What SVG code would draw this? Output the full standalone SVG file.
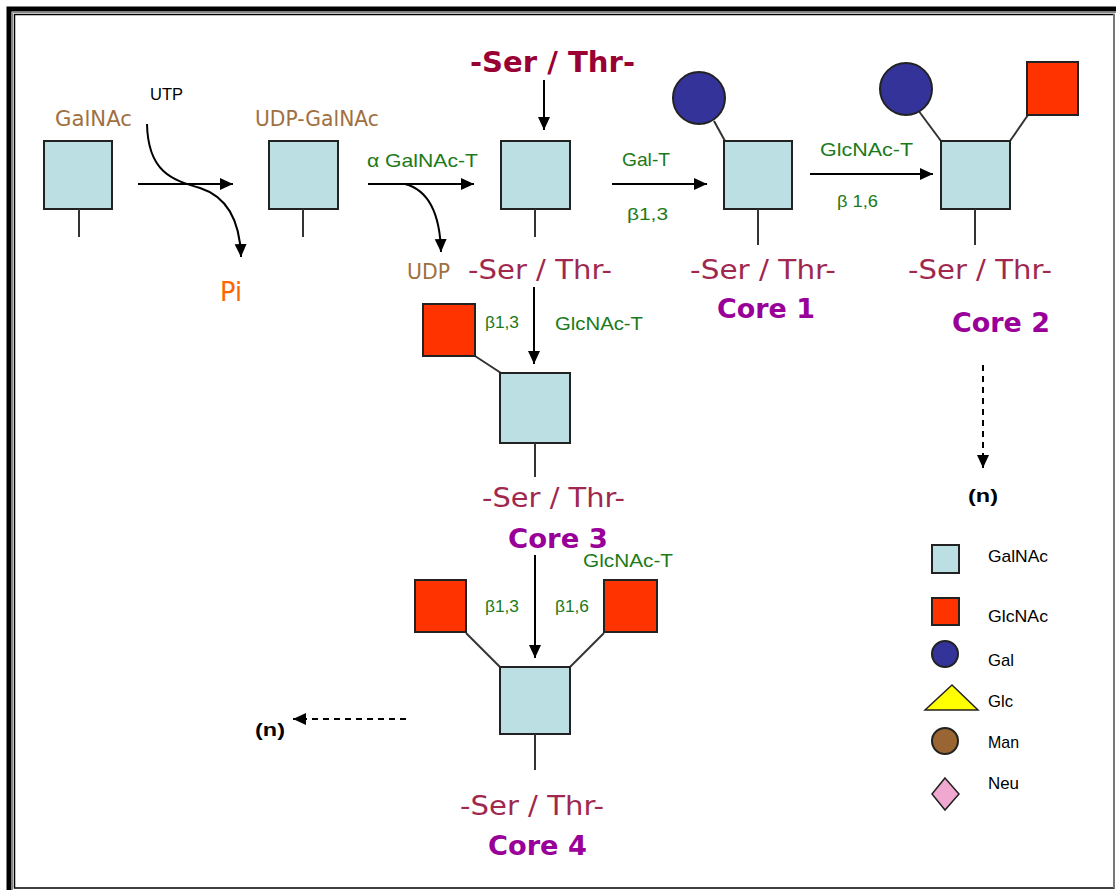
<svg xmlns="http://www.w3.org/2000/svg" width="1116" height="890" viewBox="0 0 1116 890">
<defs>
<marker id="ah" markerWidth="14" markerHeight="14" refX="13" refY="7" orient="auto" markerUnits="userSpaceOnUse">
<path d="M0,1 L13,7 L0,13 Z" fill="#000"/>
</marker>
<style>
.gn{fill:#BBDFE2;stroke:#222;stroke-width:2}
.gc{fill:#FF3300;stroke:#222;stroke-width:2}
.gal{fill:#333399;stroke:#222;stroke-width:2}
.bond{stroke:#333;stroke-width:2;fill:none}
.arr{stroke:#000;stroke-width:2;fill:none;marker-end:url(#ah)}
.dash{stroke:#000;stroke-width:2;fill:none;stroke-dasharray:6,5;marker-end:url(#ah)}
.st{font-family:"DejaVu Sans",sans-serif;font-size:26px;fill:#A0284F}
.core{font-family:"DejaVu Sans",sans-serif;font-size:26px;font-weight:bold;fill:#990099}
.en{font-family:"Liberation Sans",Arial,sans-serif;font-size:19px;fill:#1A7A1A}
.lk{font-family:"Liberation Sans",Arial,sans-serif;font-size:16px;fill:#1A7A1A}
.br{font-family:"DejaVu Sans",sans-serif;font-size:21px;fill:#A07040}
.lg{font-family:"Liberation Sans",Arial,sans-serif;font-size:17px;fill:#000}
.n{font-family:"Liberation Sans",Arial,sans-serif;font-size:19px;font-weight:bold;fill:#000}
</style>
</defs>
<rect width="1116" height="890" fill="#fff"/>
<!-- frame -->
<g id="frame" fill="none">
<path d="M9,892 L9,9 L1120,9" stroke="#000" stroke-width="5"/>
<path d="M12.5,892 L12.5,12.5 L1120,12.5" stroke="#888" stroke-width="1"/>
<rect x="14.5" y="14.5" width="1099.5" height="873.5" stroke="#000" stroke-width="1.5"/>
<line x1="1114" y1="14" x2="1114" y2="888" stroke="#777" stroke-width="2"/>
</g>
<!-- connectors -->
<g id="connectors">
<line class="arr" x1="138" y1="184" x2="233" y2="184"/>
<path class="arr" d="M147,124 C148,172 172,180 200,188 C228,197 240,222 241,257"/>
<line class="arr" x1="368" y1="184" x2="474" y2="184"/>
<path class="arr" d="M405,184 C428,190 440,212 441,252"/>
<line class="arr" x1="544" y1="80" x2="544" y2="130"/>
<line class="arr" x1="612" y1="184" x2="707" y2="184"/>
<line class="arr" x1="810" y1="174" x2="933" y2="174"/>
<line class="arr" x1="534" y1="287" x2="534" y2="364"/>
<line class="arr" x1="535" y1="555" x2="535" y2="658"/>
<line class="dash" x1="983" y1="365" x2="983" y2="468"/>
<line class="dash" x1="406" y1="719" x2="293" y2="719"/>
</g>
<!-- GalNAc -->
<g id="galnac">
<text class="br" x="55" y="126" textLength="77" lengthAdjust="spacingAndGlyphs">GalNAc</text>
<rect class="gn" x="44" y="141" width="68" height="68"/>
<line class="bond" x1="79" y1="209" x2="79" y2="237"/>
</g>
<g id="utp">
<text x="150" y="100" font-family="Liberation Sans, Arial, sans-serif" font-size="17" fill="#000" textLength="33" lengthAdjust="spacingAndGlyphs">UTP</text>
</g>
<g id="pi">
<text x="220" y="301" font-family="DejaVu Sans, sans-serif" font-size="26" fill="#FF6600" textLength="22" lengthAdjust="spacingAndGlyphs">Pi</text>
</g>
<!-- UDP-GalNAc -->
<g id="udp-galnac">
<text class="br" x="255" y="126" textLength="124" lengthAdjust="spacingAndGlyphs">UDP-GalNAc</text>
<rect class="gn" x="269" y="141" width="69" height="68"/>
<line class="bond" x1="303" y1="209" x2="303" y2="237"/>
</g>
<g id="galnac-t">
<text class="en" x="367" y="167" textLength="111" lengthAdjust="spacingAndGlyphs">α GalNAc-T</text>
</g>
<g id="udp">
<text class="br" x="407" y="279" textLength="43" lengthAdjust="spacingAndGlyphs">UDP</text>
</g>
<!-- Tn antigen -->
<g id="ser-thr-top">
<text x="470" y="72" font-family="DejaVu Sans, sans-serif" font-size="28" font-weight="bold" fill="#990033" textLength="165" lengthAdjust="spacingAndGlyphs">-Ser / Thr-</text>
</g>
<g id="tn">
<rect class="gn" x="501" y="141" width="69" height="68"/>
<line class="bond" x1="535" y1="209" x2="535" y2="237"/>
<text class="st" x="468" y="279" textLength="144" lengthAdjust="spacingAndGlyphs">-Ser / Thr-</text>
</g>
<g id="gal-t">
<text class="en" x="622" y="166" textLength="48" lengthAdjust="spacingAndGlyphs">Gal-T</text>
<text class="lk" x="627" y="220" textLength="41" lengthAdjust="spacingAndGlyphs">β1,3</text>
</g>
<!-- Core 1 -->
<g id="core1">
<line class="bond" x1="714" y1="121" x2="725" y2="141"/>
<circle class="gal" cx="699" cy="98" r="26"/>
<rect class="gn" x="724" y="141" width="68" height="68"/>
<line class="bond" x1="758" y1="209" x2="758" y2="245"/>
<text class="st" x="690" y="279" textLength="146" lengthAdjust="spacingAndGlyphs">-Ser / Thr-</text>
<text class="core" x="717" y="318" textLength="98" lengthAdjust="spacingAndGlyphs">Core 1</text>
</g>
<g id="glcnac-t-16">
<text class="en" x="820" y="156" textLength="93" lengthAdjust="spacingAndGlyphs">GlcNAc-T</text>
<text class="lk" x="837" y="207" textLength="41" lengthAdjust="spacingAndGlyphs">β 1,6</text>
</g>
<!-- Core 2 -->
<g id="core2">
<line class="bond" x1="918" y1="110" x2="941" y2="141"/>
<line class="bond" x1="1028" y1="115" x2="1010" y2="141"/>
<circle class="gal" cx="906" cy="89" r="26"/>
<rect class="gc" x="1027" y="62" width="51" height="53"/>
<rect class="gn" x="941" y="141" width="69" height="68"/>
<line class="bond" x1="975" y1="209" x2="975" y2="245"/>
<text class="st" x="908" y="279" textLength="144" lengthAdjust="spacingAndGlyphs">-Ser / Thr-</text>
<text class="core" x="952" y="332" textLength="98" lengthAdjust="spacingAndGlyphs">Core 2</text>
</g>
<g id="n-right">
<text class="n" x="968" y="502" textLength="30" lengthAdjust="spacingAndGlyphs">(n)</text>
</g>
<!-- Core 3 -->
<g id="glcnac-t-13">
<text class="lk" x="485" y="328" textLength="34" lengthAdjust="spacingAndGlyphs">β1,3</text>
<text class="en" x="555" y="330" textLength="88" lengthAdjust="spacingAndGlyphs">GlcNAc-T</text>
</g>
<g id="core3">
<line class="bond" x1="475" y1="356" x2="501" y2="373"/>
<rect class="gc" x="423" y="304" width="52" height="52"/>
<rect class="gn" x="500" y="373" width="70" height="70"/>
<line class="bond" x1="535" y1="443" x2="535" y2="477"/>
<text class="st" x="482" y="507" textLength="143" lengthAdjust="spacingAndGlyphs">-Ser / Thr-</text>
<text class="core" x="508" y="548" textLength="100" lengthAdjust="spacingAndGlyphs">Core 3</text>
</g>
<g id="glcnac-t-core4">
<text class="en" x="583" y="567" textLength="90" lengthAdjust="spacingAndGlyphs">GlcNAc-T</text>
<text class="lk" x="485" y="612" textLength="34" lengthAdjust="spacingAndGlyphs">β1,3</text>
<text class="lk" x="555" y="612" textLength="34" lengthAdjust="spacingAndGlyphs">β1,6</text>
</g>
<!-- Core 4 -->
<g id="core4">
<line class="bond" x1="466" y1="633" x2="500" y2="667"/>
<line class="bond" x1="604" y1="633" x2="570" y2="667"/>
<rect class="gc" x="415" y="580" width="51" height="52"/>
<rect class="gc" x="604" y="580" width="53" height="52"/>
<rect class="gn" x="500" y="667" width="70" height="67"/>
<line class="bond" x1="535" y1="734" x2="535" y2="770"/>
<text class="st" x="460" y="815" textLength="144" lengthAdjust="spacingAndGlyphs">-Ser / Thr-</text>
<text class="core" x="488" y="855" textLength="99" lengthAdjust="spacingAndGlyphs">Core 4</text>
</g>
<g id="n-left">
<text class="n" x="255" y="736" textLength="30" lengthAdjust="spacingAndGlyphs">(n)</text>
</g>
<!-- legend -->
<g id="legend">
<rect class="gn" x="932" y="545" width="27" height="28"/>
<text class="lg" x="988" y="562" textLength="60" lengthAdjust="spacingAndGlyphs">GalNAc</text>
<rect class="gc" x="932" y="598" width="27" height="27"/>
<text class="lg" x="988" y="622" textLength="60" lengthAdjust="spacingAndGlyphs">GlcNAc</text>
<circle class="gal" cx="945" cy="654" r="13"/>
<text class="lg" x="988" y="666" textLength="26" lengthAdjust="spacingAndGlyphs">Gal</text>
<polygon points="925,710 952,685 978,710" fill="#FFFF00" stroke="#222" stroke-width="1.5"/>
<text class="lg" x="988" y="707" textLength="25" lengthAdjust="spacingAndGlyphs">Glc</text>
<circle cx="945" cy="741" r="13" fill="#996633" stroke="#222" stroke-width="2"/>
<text class="lg" x="988" y="748" textLength="31" lengthAdjust="spacingAndGlyphs">Man</text>
<polygon points="945,778 959,794 945,810 932,794" fill="#F0A8D0" stroke="#222" stroke-width="1.5"/>
<text class="lg" x="988" y="789" textLength="31" lengthAdjust="spacingAndGlyphs">Neu</text>
</g>
</svg>
